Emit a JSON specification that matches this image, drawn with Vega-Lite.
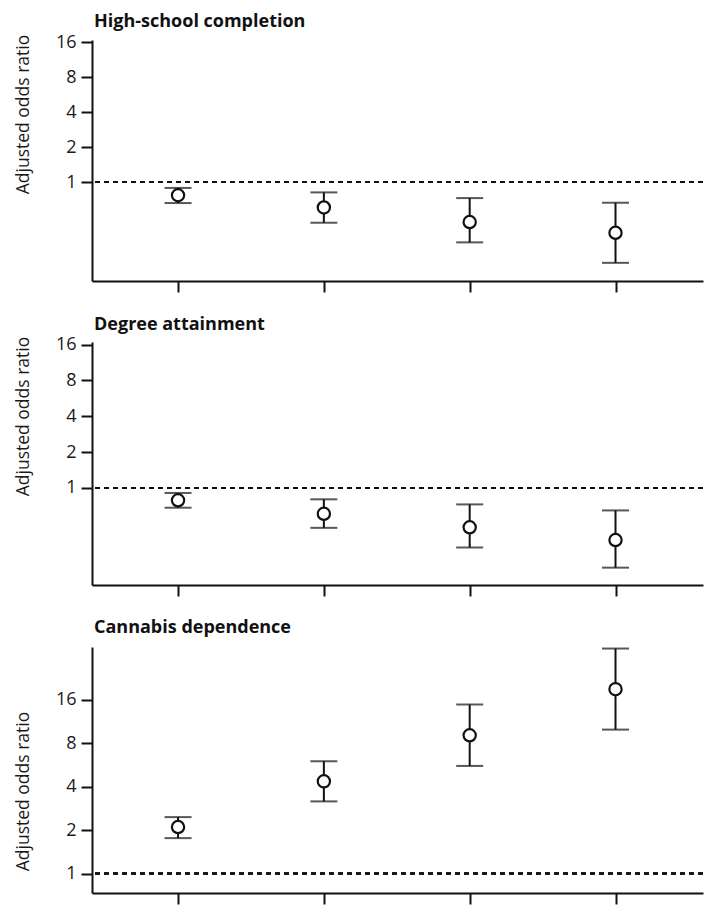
{
  "$schema": "https://vega.github.io/schema/vega-lite/v6.json",
  "background": "white",
  "padding": {"left": 14, "top": 13, "right": 0, "bottom": 0},
  "data": {
    "values": [
      {"panel": "High-school completion", "group": 1, "or": 0.77, "lo": 0.66, "hi": 0.89},
      {"panel": "High-school completion", "group": 2, "or": 0.605, "lo": 0.447, "hi": 0.815},
      {"panel": "High-school completion", "group": 3, "or": 0.453, "lo": 0.303, "hi": 0.728},
      {"panel": "High-school completion", "group": 4, "or": 0.366, "lo": 0.202, "hi": 0.664},
      {"panel": "Degree attainment", "group": 1, "or": 0.787, "lo": 0.682, "hi": 0.907},
      {"panel": "Degree attainment", "group": 2, "or": 0.606, "lo": 0.462, "hi": 0.802},
      {"panel": "Degree attainment", "group": 3, "or": 0.467, "lo": 0.316, "hi": 0.727},
      {"panel": "Degree attainment", "group": 4, "or": 0.365, "lo": 0.214, "hi": 0.647},
      {"panel": "Cannabis dependence", "group": 1, "or": 2.1, "lo": 1.76, "hi": 2.46},
      {"panel": "Cannabis dependence", "group": 2, "or": 4.35, "lo": 3.16, "hi": 5.99},
      {"panel": "Cannabis dependence", "group": 3, "or": 9.06, "lo": 5.56, "hi": 14.8},
      {"panel": "Cannabis dependence", "group": 4, "or": 18.9, "lo": 9.92, "hi": 36.1}
    ]
  },
  "config": {
    "font": "Open Sans",
    "view": {"stroke": null},
    "axis": {
      "domainColor": "#111111",
      "domainWidth": 2,
      "tickColor": "#111111",
      "tickWidth": 2,
      "tickSize": 11,
      "grid": false,
      "labelFont": "Open Sans",
      "labelFontSize": 18,
      "labelColor": "#1a1a1a",
      "titleFont": "Open Sans",
      "titleFontSize": 17.5,
      "titleFontWeight": "normal",
      "titleColor": "#1a1a1a"
    },
    "title": {
      "font": "Open Sans",
      "fontSize": 18,
      "fontWeight": "bold",
      "color": "#111111",
      "anchor": "start",
      "frame": "group",
      "offset": 2
    },
    "concat": {"spacing": 22}
  },
  "vconcat": [
    {
      "title": {"text": "High-school completion", "dx": 2},
      "width": 611,
      "height": 241,
      "transform": [{"filter": "datum.panel === 'High-school completion'"}],
      "encoding": {
        "x": {"field": "group", "type": "quantitative", "scale": {"domain": [0.41, 4.6], "nice": false, "zero": false},
          "axis": {"values": [1, 2, 3, 4], "labels": false, "title": null}}
      },
      "layer": [
        {"mark": {"type": "rule", "strokeDash": [5, 4], "strokeWidth": 2, "color": "#111111"}, "encoding": {"x": null, "y": {"datum": 1, "type": "quantitative"}}},
        {"mark": {"type": "rule", "strokeWidth": 2, "color": "#111111"},
          "encoding": {"y": {"field": "lo", "type": "quantitative",
            "scale": {"type": "log", "domain": [0.141, 16.65], "nice": false},
            "axis": {"values": [1, 2, 4, 8, 16], "title": "Adjusted odds ratio", "titlePadding": 23, "labelPadding": 5, "titleY": 74}},
            "y2": {"field": "hi"}}},
        {"mark": {"type": "tick", "orient": "horizontal", "size": 27, "thickness": 2, "color": "#111111"}, "encoding": {"y": {"field": "lo", "type": "quantitative"}}},
        {"mark": {"type": "tick", "orient": "horizontal", "size": 27, "thickness": 2, "color": "#111111"}, "encoding": {"y": {"field": "hi", "type": "quantitative"}}},
        {"mark": {"type": "point", "shape": "circle", "filled": true, "fill": "white", "size": 150, "strokeWidth": 2.2, "stroke": "#111111", "opacity": 1}, "encoding": {"y": {"field": "or", "type": "quantitative"}}}
      ]
    },
    {
      "title": {"text": "Degree attainment", "dx": 2},
      "width": 611,
      "height": 243,
      "transform": [{"filter": "datum.panel === 'Degree attainment'"}],
      "encoding": {
        "x": {"field": "group", "type": "quantitative", "scale": {"domain": [0.41, 4.6], "nice": false, "zero": false},
          "axis": {"values": [1, 2, 3, 4], "labels": false, "title": null}}
      },
      "layer": [
        {"mark": {"type": "rule", "strokeDash": [5, 4], "strokeWidth": 2, "color": "#111111"}, "encoding": {"x": null, "y": {"datum": 1, "type": "quantitative"}}},
        {"mark": {"type": "rule", "strokeWidth": 2, "color": "#111111"},
          "encoding": {"y": {"field": "lo", "type": "quantitative",
            "scale": {"type": "log", "domain": [0.153, 16.8], "nice": false},
            "axis": {"values": [1, 2, 4, 8, 16], "title": "Adjusted odds ratio", "titlePadding": 23, "labelPadding": 5, "titleY": 74}},
            "y2": {"field": "hi"}}},
        {"mark": {"type": "tick", "orient": "horizontal", "size": 27, "thickness": 2, "color": "#111111"}, "encoding": {"y": {"field": "lo", "type": "quantitative"}}},
        {"mark": {"type": "tick", "orient": "horizontal", "size": 27, "thickness": 2, "color": "#111111"}, "encoding": {"y": {"field": "hi", "type": "quantitative"}}},
        {"mark": {"type": "point", "shape": "circle", "filled": true, "fill": "white", "size": 150, "strokeWidth": 2.2, "stroke": "#111111", "opacity": 1}, "encoding": {"y": {"field": "or", "type": "quantitative"}}}
      ]
    },
    {
      "title": {"text": "Cannabis dependence", "dx": 2, "offset": 10},
      "width": 611,
      "height": 246,
      "transform": [{"filter": "datum.panel === 'Cannabis dependence'"}],
      "encoding": {
        "x": {"field": "group", "type": "quantitative", "scale": {"domain": [0.41, 4.6], "nice": false, "zero": false},
          "axis": {"values": [1, 2, 3, 4], "labels": false, "title": null}}
      },
      "layer": [
        {"mark": {"type": "rule", "strokeDash": [5, 4], "strokeWidth": 2, "color": "#111111"}, "encoding": {"x": null, "y": {"datum": 1, "type": "quantitative"}}},
        {"mark": {"type": "rule", "strokeWidth": 2, "color": "#111111"},
          "encoding": {"y": {"field": "lo", "type": "quantitative",
            "scale": {"type": "log", "domain": [0.734, 37], "nice": false},
            "axis": {"values": [1, 2, 4, 8, 16], "title": "Adjusted odds ratio", "titlePadding": 23, "labelPadding": 5, "titleY": 144}},
            "y2": {"field": "hi"}}},
        {"mark": {"type": "tick", "orient": "horizontal", "size": 27, "thickness": 2, "color": "#111111"}, "encoding": {"y": {"field": "lo", "type": "quantitative"}}},
        {"mark": {"type": "tick", "orient": "horizontal", "size": 27, "thickness": 2, "color": "#111111"}, "encoding": {"y": {"field": "hi", "type": "quantitative"}}},
        {"mark": {"type": "point", "shape": "circle", "filled": true, "fill": "white", "size": 150, "strokeWidth": 2.2, "stroke": "#111111", "opacity": 1}, "encoding": {"y": {"field": "or", "type": "quantitative"}}}
      ]
    }
  ]
}
